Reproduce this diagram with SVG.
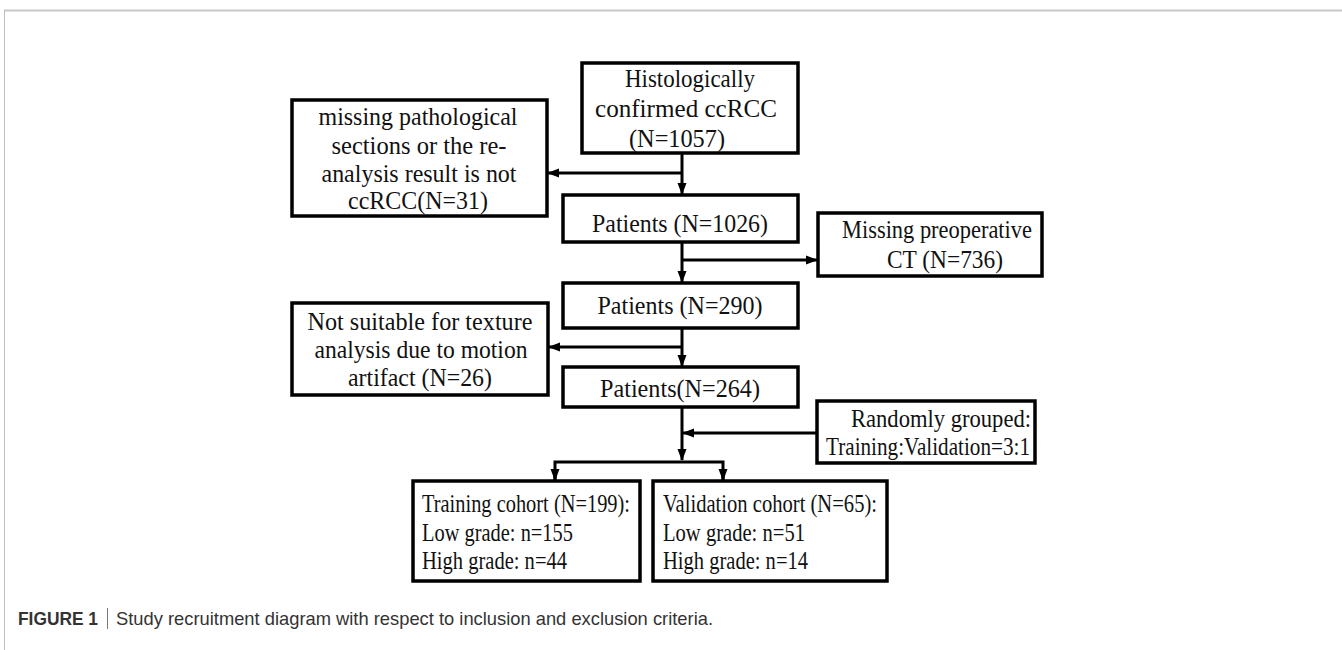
<svg xmlns="http://www.w3.org/2000/svg" width="1342" height="650" viewBox="0 0 1342 650">
<style>
.box{fill:#fff;stroke:#000;stroke-width:3.5}
.t{font-family:"Liberation Serif","Times New Roman",serif;font-size:25.5px;fill:#111}
.c{text-anchor:middle}
.ln{fill:none;stroke:#000;stroke-width:3}
.cap{font-family:"Liberation Sans",Arial,sans-serif;font-size:19px;fill:#333}
</style>
<defs>
<marker id="ah" markerUnits="userSpaceOnUse" markerWidth="12" markerHeight="12" viewBox="0 0 12 12" refX="11" refY="6" orient="auto">
<path d="M0,1.5 L12,6 L0,10.5 Z" fill="#000"/>
</marker>
</defs>
<rect width="1342" height="650" fill="#fff"/>
<g id="frame">
<line x1="4" y1="10.5" x2="1342" y2="10.5" stroke="#c8c8c8" stroke-width="2"/>
<line x1="4.5" y1="10" x2="4.5" y2="650" stroke="#bdbdbd" stroke-width="1"/>
</g>
<g id="connectors">
<line class="ln" x1="682" y1="153" x2="682" y2="194" marker-end="url(#ah)"/>
<line class="ln" x1="682" y1="173" x2="548" y2="173" marker-end="url(#ah)"/>
<line class="ln" x1="682" y1="242" x2="682" y2="282" marker-end="url(#ah)"/>
<line class="ln" x1="682" y1="260" x2="817" y2="260" marker-end="url(#ah)"/>
<line class="ln" x1="682" y1="328" x2="682" y2="366" marker-end="url(#ah)"/>
<line class="ln" x1="682" y1="347" x2="549" y2="347" marker-end="url(#ah)"/>
<line class="ln" x1="682" y1="407" x2="682" y2="460" marker-end="url(#ah)"/>
<line class="ln" x1="817" y1="433" x2="683" y2="433" marker-end="url(#ah)"/>
<polyline class="ln" points="555,480 555,462 723,462 723,480"/>
<line class="ln" x1="555" y1="470" x2="555" y2="480" marker-end="url(#ah)"/>
<line class="ln" x1="723" y1="470" x2="723" y2="480" marker-end="url(#ah)"/>
</g>
<g id="n1">
<rect class="box" x="582" y="63" width="216" height="90"/>
<text class="t c" x="690" y="87" textLength="130" lengthAdjust="spacingAndGlyphs">Histologically</text>
<text class="t c" x="686" y="117" textLength="182" lengthAdjust="spacingAndGlyphs">confirmed ccRCC</text>
<text class="t c" x="677" y="147" textLength="96" lengthAdjust="spacingAndGlyphs">(N=1057)</text>
</g>
<g id="n2">
<rect class="box" x="292" y="100" width="255" height="116"/>
<text class="t c" x="418" y="125" textLength="199" lengthAdjust="spacingAndGlyphs">missing pathological</text>
<text class="t c" x="419" y="154" textLength="175" lengthAdjust="spacingAndGlyphs">sections or the re-</text>
<text class="t c" x="419" y="182" textLength="195" lengthAdjust="spacingAndGlyphs">analysis result is not</text>
<text class="t c" x="418" y="209" textLength="140" lengthAdjust="spacingAndGlyphs">ccRCC(N=31)</text>
</g>
<g id="n3">
<rect class="box" x="563" y="195" width="235" height="47"/>
<text class="t c" x="680" y="232" textLength="176" lengthAdjust="spacingAndGlyphs">Patients (N=1026)</text>
</g>
<g id="n4">
<rect class="box" x="818" y="213" width="224" height="63"/>
<text class="t c" x="937" y="238" textLength="190" lengthAdjust="spacingAndGlyphs">Missing preoperative</text>
<text class="t c" x="945" y="268" textLength="116" lengthAdjust="spacingAndGlyphs">CT (N=736)</text>
</g>
<g id="n5">
<rect class="box" x="563" y="283" width="235" height="45"/>
<text class="t c" x="680" y="314" textLength="165" lengthAdjust="spacingAndGlyphs">Patients (N=290)</text>
</g>
<g id="n6">
<rect class="box" x="292" y="303" width="256" height="92"/>
<text class="t c" x="420" y="330" textLength="225" lengthAdjust="spacingAndGlyphs">Not suitable for texture</text>
<text class="t c" x="421" y="358" textLength="213" lengthAdjust="spacingAndGlyphs">analysis due to motion</text>
<text class="t c" x="420" y="386" textLength="144" lengthAdjust="spacingAndGlyphs">artifact (N=26)</text>
</g>
<g id="n7">
<rect class="box" x="563" y="367" width="235" height="40"/>
<text class="t c" x="680" y="397" textLength="160" lengthAdjust="spacingAndGlyphs">Patients(N=264)</text>
</g>
<g id="n8">
<rect class="box" x="817" y="401" width="218" height="62"/>
<text class="t c" x="941" y="427" textLength="180" lengthAdjust="spacingAndGlyphs">Randomly grouped:</text>
<text class="t c" x="928" y="455" textLength="204" lengthAdjust="spacingAndGlyphs">Training:Validation=3:1</text>
</g>
<g id="n9">
<rect class="box" x="413" y="481" width="227" height="100"/>
<text class="t" x="422" y="512" textLength="208" lengthAdjust="spacingAndGlyphs">Training cohort (N=199):</text>
<text class="t" x="422" y="541" textLength="151" lengthAdjust="spacingAndGlyphs">Low grade: n=155</text>
<text class="t" x="422" y="569" textLength="145" lengthAdjust="spacingAndGlyphs">High grade: n=44</text>
</g>
<g id="n10">
<rect class="box" x="653" y="481" width="234" height="100"/>
<text class="t" x="663" y="512" textLength="214" lengthAdjust="spacingAndGlyphs">Validation cohort (N=65):</text>
<text class="t" x="663" y="541" textLength="142" lengthAdjust="spacingAndGlyphs">Low grade: n=51</text>
<text class="t" x="663" y="569" textLength="145" lengthAdjust="spacingAndGlyphs">High grade: n=14</text>
</g>
<g id="caption">
<text class="cap" x="18" y="625" font-weight="bold" fill="#222" textLength="80" lengthAdjust="spacingAndGlyphs">FIGURE 1</text>
<line x1="107.5" y1="608" x2="107.5" y2="629" stroke="#777" stroke-width="1"/>
<text class="cap" x="116" y="625" textLength="597" lengthAdjust="spacingAndGlyphs">Study recruitment diagram with respect to inclusion and exclusion criteria.</text>
</g>
</svg>
